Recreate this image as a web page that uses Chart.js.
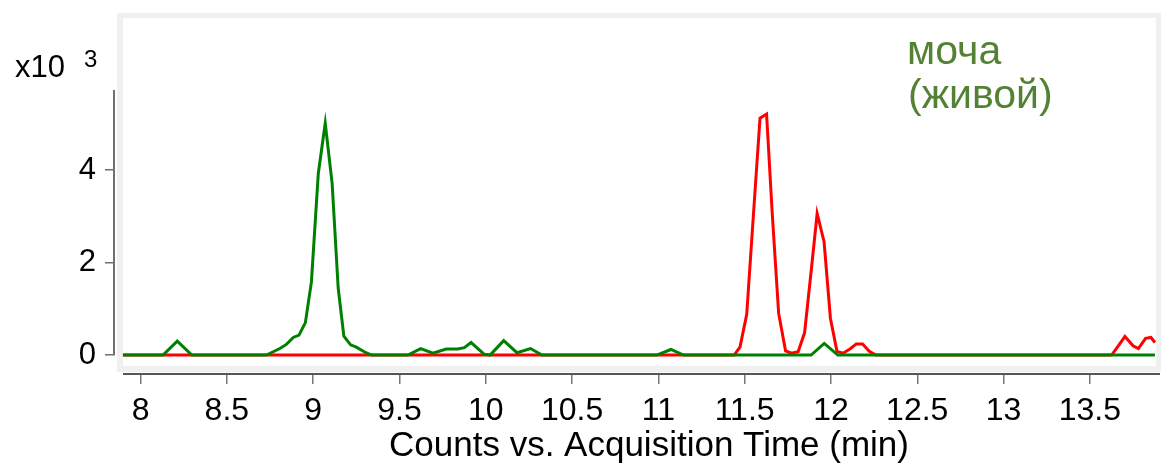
<!DOCTYPE html>
<html>
<head>
<meta charset="utf-8">
<script src="https://cdn.jsdelivr.net/npm/chart.js@4.4.1/dist/chart.umd.min.js"></script>
<style>
  html, body { margin: 0; padding: 0; background: #fff; }
  #chart { display: block; }
</style>
</head>
<body>
<canvas id="chart" width="1161" height="469"></canvas>
<script>
// acquisition time, min
const greenTime = [7.898, 8.13, 8.213, 8.297, 8.73, 8.807, 8.845, 8.885, 8.918, 8.955,
  8.99, 9.03, 9.07, 9.11, 9.145, 9.178, 9.217, 9.25, 9.306, 9.339,
  9.549, 9.623, 9.694, 9.771, 9.838, 9.876, 9.915, 9.99, 10.025, 10.104,
  10.181, 10.259, 10.326, 10.991, 11.073, 11.146, 11.885, 11.961, 12.04, 13.877]
// counts, x10^3
const greenCounts = [0, 0, 0.30, 0, 0, 0.14, 0.23, 0.38, 0.43, 0.70,
  1.58, 3.93, 5.01, 3.71, 1.45, 0.41, 0.22, 0.17, 0.05, 0,
  0, 0.14, 0.04, 0.13, 0.13, 0.16, 0.27, 0.02, 0, 0.31,
  0.05, 0.14, 0, 0, 0.12, 0, 0, 0.25, 0, 0]

const redTime = [7.898, 11.439, 11.473, 11.512, 11.55, 11.589, 11.627, 11.66, 11.697, 11.737,
  11.772, 11.81, 11.847, 11.885, 11.92, 11.96, 11.997, 12.035, 12.07, 12.11,
  12.147, 12.183, 12.222, 12.26, 13.626, 13.665, 13.703, 13.75, 13.781, 13.823,
  13.854, 13.877]
const redCounts = [0, 0, 0.17, 0.88, 2.99, 5.12, 5.21, 3.05, 0.90, 0.09,
  0.04, 0.07, 0.48, 1.8, 3.06, 2.45, 0.79, 0.08, 0.04, 0.13,
  0.24, 0.24, 0.08, 0, 0, 0.2, 0.40, 0.20, 0.14, 0.36,
  0.38, 0.27]

const xTicks = [8, 8.5, 9, 9.5, 10, 10.5, 11, 11.5, 12, 12.5, 13, 13.5]
const yTicks = [0, 2, 4]
const xRange = [7.852, 13.889]
const yRange = [-0.41, 5.73]

const FONT = "'Liberation Sans', Arial, sans-serif"

function toPoints (times, counts) {
  return times.map((t, i) => ({ x: t, y: counts[i] }))
}

const framePlugin = {
  id: 'frame',
  beforeDraw (chart) {
    const ctx = chart.ctx
    ctx.save()
    ctx.fillStyle = '#ffffff'
    ctx.fillRect(0, 0, chart.width, chart.height)
    // light grey box round the plot
    ctx.fillStyle = '#f0f0f0'
    ctx.fillRect(117, 13, chart.width - 117, 359)
    ctx.fillStyle = '#ffffff'
    ctx.fillRect(123, 18, 1033, 348)
    ctx.restore()
  },
  afterDraw (chart) {
    const ctx = chart.ctx
    const y = chart.scales.y
    const area = chart.chartArea
    ctx.save()

    // y axis line only spans 0 .. top
    ctx.strokeStyle = '#707070'
    ctx.lineWidth = 2
    ctx.beginPath()
    ctx.moveTo(area.left - 1, y.getPixelForValue(0))
    ctx.lineTo(area.left - 1, y.getPixelForValue(yRange[1]))
    ctx.stroke()

    // x axis line starts at the inner edge of the box
    ctx.strokeStyle = '#555'
    ctx.beginPath()
    ctx.moveTo(123, area.bottom)
    ctx.lineTo(chart.width - 1, area.bottom)
    ctx.stroke()

    ctx.fillStyle = '#000'
    ctx.textBaseline = 'alphabetic'
    ctx.textAlign = 'left'
    ctx.font = `31px ${FONT}`
    ctx.fillText('x10', 15, 77)
    ctx.font = `24px ${FONT}`
    ctx.fillText('3', 84, 67)

    ctx.textAlign = 'center'
    ctx.font = `35px ${FONT}`
    ctx.fillText('Counts vs. Acquisition Time (min)', 649, 456)

    ctx.textAlign = 'left'
    ctx.fillStyle = '#548235'
    ctx.font = `41px ${FONT}`
    ctx.fillText('моча', 907, 64)
    ctx.fillText('(живой)', 908, 108)
    ctx.restore()
  }
}

const chart = new Chart(document.getElementById('chart'), {
  type: 'line',
  data: {
    datasets: [
      {
        label: 'моча (живой)',
        data: toPoints(greenTime, greenCounts),
        borderColor: '#008000',
        borderWidth: 3,
        pointRadius: 0,
        tension: 0,
        fill: false
      },
      {
        label: 'red',
        data: toPoints(redTime, redCounts),
        borderColor: '#ff0000',
        borderWidth: 3,
        pointRadius: 0,
        tension: 0,
        fill: false
      }
    ]
  },
  options: {
    responsive: false,
    animation: false,
    devicePixelRatio: 1,
    layout: { padding: { top: 90, right: 4, bottom: 0, left: 0 } },
    plugins: {
      legend: { display: false },
      tooltip: { enabled: false }
    },
    scales: {
      x: {
        type: 'linear',
        min: xRange[0],
        max: xRange[1],
        afterBuildTicks: (scale) => { scale.ticks = xTicks.map(v => ({ value: v })) },
        afterFit: (scale) => { scale.height = 95 },
        ticks: {
          font: { family: FONT, size: 32 },
          color: '#000',
          padding: 8,
          maxRotation: 0,
          autoSkip: false,
          callback: (v) => String(v)
        },
        grid: { drawOnChartArea: false, tickLength: 10, color: '#777', lineWidth: 1.5 },
        border: { display: false }
      },
      y: {
        type: 'linear',
        min: yRange[0],
        max: yRange[1],
        afterBuildTicks: (scale) => { scale.ticks = yTicks.map(v => ({ value: v })) },
        afterFit: (scale) => { scale.width = 115 },
        ticks: {
          font: { family: FONT, size: 31 },
          color: '#000',
          padding: 9,
          callback: (v) => String(v)
        },
        grid: { drawOnChartArea: false, tickLength: 10, color: '#707070', lineWidth: 1.5 },
        border: { display: false }
      }
    }
  },
  plugins: [framePlugin]
})
</script>
</body>
</html>
